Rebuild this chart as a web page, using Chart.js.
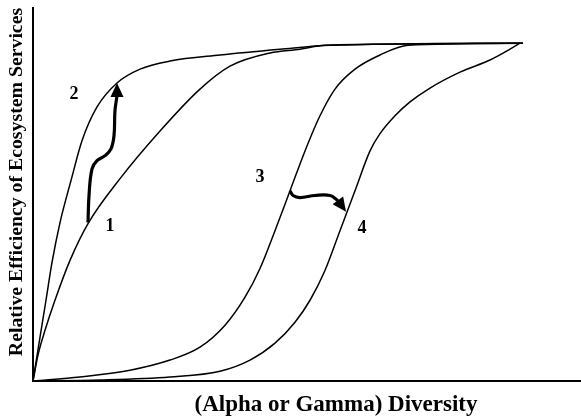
<!DOCTYPE html>
<html>
<head>
<meta charset="utf-8">
<script src="https://cdn.jsdelivr.net/npm/chart.js@4/dist/chart.umd.min.js"></script>
<style>
  body { margin: 0; background: #fff; }
  canvas { display: block; }
</style>
</head>
<body>
<canvas id="divChart" width="581" height="418"></canvas>
<script>
// curve data (diversity on x, relative efficiency on y)
const curve1X = [0, 0.91, 2.19, 4.01, 6.75, 10.04, 15.88, 23.18, 30.47, 35.95, 43.25, 48.72, 53.28, 89.42];
const curve1Y = [0, 0.077, 0.150, 0.239, 0.357, 0.466, 0.599, 0.740, 0.864, 0.932, 0.971, 0.982, 0.994, 1];

const curve2X = [0, 1.28, 2.37, 3.47, 4.93, 6.93, 8.94, 11.68, 15.33, 19.53, 25.0, 34.12, 45.07, 54.2, 89.42];
const curve2Y = [0, 0.130, 0.239, 0.351, 0.469, 0.593, 0.711, 0.811, 0.882, 0.923, 0.947, 0.965, 0.982, 0.994, 1];

const curve3X = [0, 8.58, 17.7, 25.0, 30.47, 35.04, 38.69, 41.42, 44.16, 46.9, 49.64, 52.37, 55.11, 58.76, 63.32, 68.43, 89.42];
const curve3Y = [0, 0.012, 0.032, 0.062, 0.100, 0.165, 0.248, 0.333, 0.445, 0.563, 0.681, 0.785, 0.864, 0.923, 0.965, 0.994, 1];

const curve4X = [0, 12.23, 25.0, 34.12, 39.6, 44.16, 47.81, 50.55, 53.28, 56.02, 58.76, 61.5, 63.32, 66.06, 68.8, 72.45, 77.92, 83.39, 87.04, 88.87];
const curve4Y = [0, 0.003, 0.012, 0.029, 0.062, 0.112, 0.174, 0.239, 0.327, 0.445, 0.563, 0.681, 0.732, 0.785, 0.826, 0.867, 0.914, 0.950, 0.982, 1];

// arrows: shaft points, last point is the tip
const arrow12X = [10.04, 10.22, 10.77, 11.68, 13.14, 14.23, 14.78, 14.96, 15.33, 15.33];
const arrow12Y = [0.469, 0.549, 0.628, 0.652, 0.667, 0.687, 0.726, 0.80, 0.844, 0.882];
const arrow34X = [46.9, 47.45, 48.72, 51.46, 54.2, 55.66, 57.12];
const arrow34Y = [0.563, 0.549, 0.543, 0.549, 0.549, 0.534, 0.501];

const curveLabels = ["1", "2", "3", "4"];
const labelX = [14.05, 7.48, 41.42, 60.04];
const labelY = [0.457, 0.847, 0.602, 0.451];

const xTitle = "(Alpha or Gamma) Diversity";
const yTitle = "Relative Efficiency of Ecosystem Services";

const SERIF = "'Liberation Serif', 'Times New Roman', serif";

function toPoints(xs, ys) {
    return xs.map((x, i) => ({ x: x, y: ys[i] }));
}

function curve(xs, ys) {
    return {
        data: toPoints(xs, ys),
        borderColor: "#000",
        borderWidth: 1.5,
        pointRadius: 0,
        cubicInterpolationMode: "monotone",
        fill: false
    };
}

function arrow(xs, ys) {
    return {
        data: toPoints(xs.slice(0, -1), ys.slice(0, -1)),
        tip: { x: xs[xs.length - 1], y: ys[ys.length - 1] },
        borderColor: "#000",
        borderWidth: 3.2,
        pointRadius: 0,
        tension: 0.4,
        fill: false,
        isArrow: true
    };
}

// arrow heads, curve numbers and axis titles
const decorPlugin = {
    id: "decor",
    afterDatasetsDraw(chart) {
        const ctx = chart.ctx;
        const xs = chart.scales.x, ys = chart.scales.y;
        ctx.save();
        chart.data.datasets.forEach(ds => {
            if (!ds.isArrow) return;
            const last = ds.data[ds.data.length - 1];
            const x0 = xs.getPixelForValue(last.x), y0 = ys.getPixelForValue(last.y);
            const x1 = xs.getPixelForValue(ds.tip.x), y1 = ys.getPixelForValue(ds.tip.y);
            const ang = Math.atan2(y1 - y0, x1 - x0);
            const len = 14, half = 6.5;
            ctx.beginPath();
            ctx.moveTo(x1, y1);
            ctx.lineTo(x1 - len * Math.cos(ang) - half * Math.sin(ang), y1 - len * Math.sin(ang) + half * Math.cos(ang));
            ctx.lineTo(x1 - len * Math.cos(ang) + half * Math.sin(ang), y1 - len * Math.sin(ang) - half * Math.cos(ang));
            ctx.closePath();
            ctx.fillStyle = "#000";
            ctx.fill();
        });

        ctx.fillStyle = "#000";
        ctx.textAlign = "center";
        ctx.textBaseline = "middle";
        ctx.font = "bold 18px " + SERIF;
        curveLabels.forEach((t, i) => {
            ctx.fillText(t, xs.getPixelForValue(labelX[i]), ys.getPixelForValue(labelY[i]));
        });

        ctx.font = "bold 23px " + SERIF;
        ctx.fillText(xTitle, 336, 405);

        ctx.translate(17, 182);
        ctx.rotate(-Math.PI / 2);
        ctx.font = "bold 19.8px " + SERIF;
        ctx.fillText(yTitle, 0, 0);
        ctx.restore();
    }
};

new Chart(document.getElementById("divChart"), {
    type: "line",
    data: {
        datasets: [
            curve(curve1X, curve1Y),
            curve(curve2X, curve2Y),
            curve(curve3X, curve3Y),
            curve(curve4X, curve4Y),
            arrow(arrow12X, arrow12Y),
            arrow(arrow34X, arrow34Y)
        ]
    },
    options: {
        responsive: false,
        animation: false,
        layout: { padding: { left: 33, top: 8, right: 0, bottom: 37 } },
        plugins: {
            legend: { display: false },
            tooltip: { enabled: false }
        },
        scales: {
            x: {
                type: "linear",
                min: 0,
                max: 100,
                grid: { display: false, drawTicks: false },
                ticks: { display: false },
                border: { display: true, color: "#000", width: 2 }
            },
            y: {
                min: 0,
                max: 1.104,
                grid: { display: false, drawTicks: false },
                ticks: { display: false },
                border: { display: true, color: "#000", width: 2 }
            }
        }
    },
    plugins: [decorPlugin]
});
</script>
</body>
</html>
